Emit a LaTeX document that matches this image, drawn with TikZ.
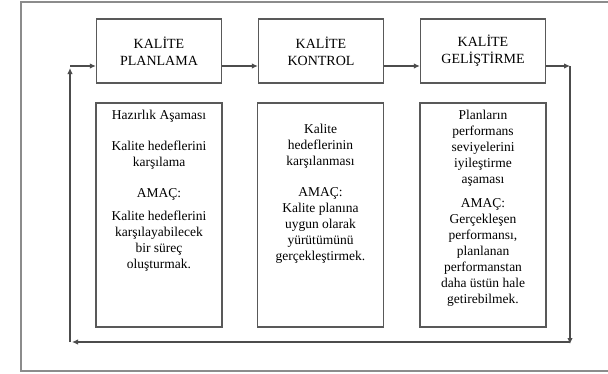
\documentclass[tikz,border=0pt]{standalone}
\usepackage{fontspec}
\setmainfont{Liberation Serif}
\usetikzlibrary{arrows.meta}
\begin{document}
\begin{tikzpicture}[x=1pt,y=-1pt,
  phasebox/.style={draw=black!65,line width=1.3pt,minimum width=125pt,minimum height=64pt,
    align=center,inner sep=0pt,font=\fontsize{14}{17}\selectfont},
  notebox/.style={draw=black!65,line width=1.3pt,minimum width=126pt,minimum height=224pt,inner sep=0pt},
  notetext/.style={align=center,anchor=north,inner sep=0pt,font=\fontsize{13.5}{16}\selectfont},
  flow/.style={draw=black!70,line width=1.2pt,-{Latex[length=6pt,width=5.5pt]}}]
\useasboundingbox (0,0) rectangle (608,373);
\draw[black!45,line width=1.4pt] (608,2) -- (21,2) -- (21,371) -- (608,371);
% upper row
\node[phasebox] (plan) at (159,51) {KAL\.ITE\\PLANLAMA};
\node[phasebox] (kontrol) at (321,51) {KAL\.ITE\\KONTROL};
\node[phasebox] (gelis) at (483,51) {KAL\.ITE\\GEL\.I\c{S}T\.IRME};
% lower row
\node[notebox] (planbox) at (159,215) {};
\node[notebox] (kontrolbox) at (320.5,215) {};
\node[notebox] (gelisbox) at (483,215) {};
\node[notetext] (plantext) at (159,110) {Hazırlık Aşaması\\[15pt]Kalite hedeflerini\\karşılama\\[15pt]AMAÇ:\\[7pt]Kalite hedeflerini\\karşılayabilecek\\bir süreç\\oluşturmak.};
\node[notetext] (kontroltext) at (320.5,124) {Kalite\\hedeflerinin\\karşılanması\\[15pt]AMAÇ:\\Kalite planına\\uygun olarak\\yürütümünü\\gerçekleştirmek.};
\node[notetext] (gelistext) at (483,110) {Planların\\performans\\seviyelerini\\iyileştirme\\aşaması\\[8pt]AMAÇ:\\Gerçekleşen\\performansı,\\planlanan\\performanstan\\daha üstün hale\\getirebilmek.};
% loop
\coordinate (ne) at (570,66);
\coordinate (se) at (570,342);
\coordinate (sw) at (70,342);
\coordinate (nw) at (70,66);
\draw[flow] ([yshift=-15pt]plan.east) -- ([yshift=-15pt]kontrol.west);
\draw[flow] ([yshift=-15pt]kontrol.east) -- ([yshift=-15pt]gelis.west);
\draw[flow] ([yshift=-15pt]gelis.east) -- (ne);
\draw[flow] (ne) -- ([yshift=-2pt]se);
\draw[flow] (se) -- ([xshift=2pt]sw);
\draw[flow] (sw) -- ([yshift=-2pt]nw);
\draw[flow] (nw) -- ([yshift=-15pt]plan.west);
\end{tikzpicture}
\end{document}
